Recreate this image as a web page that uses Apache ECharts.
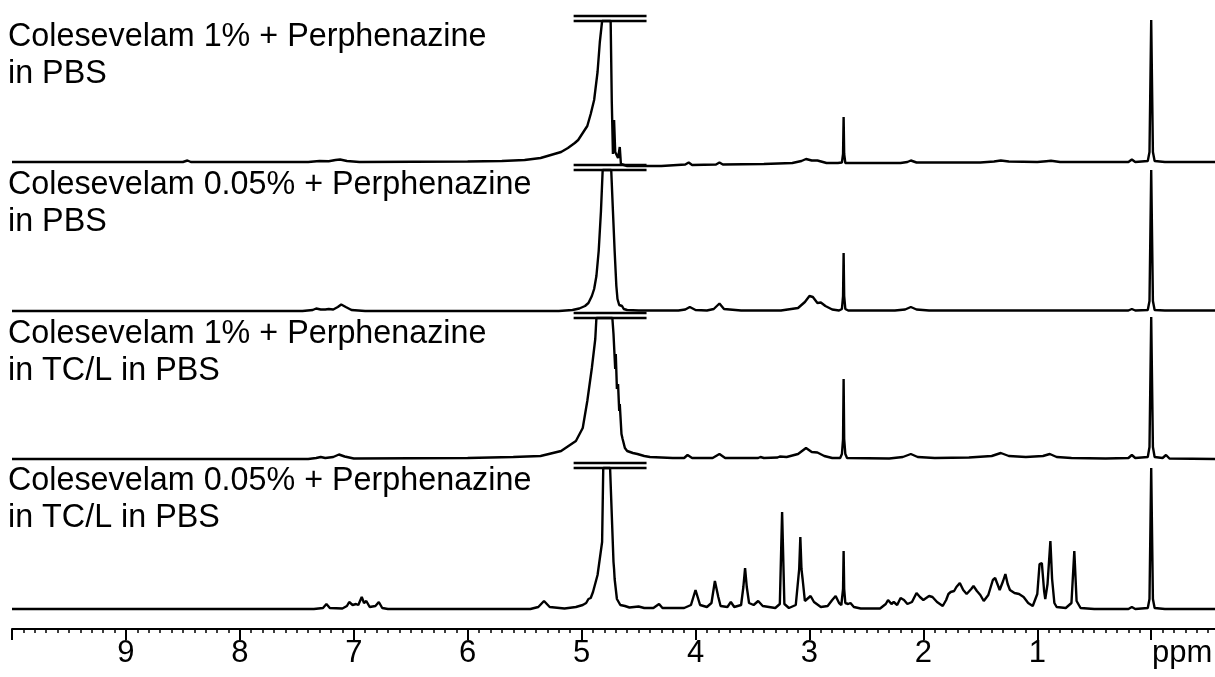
<!DOCTYPE html>
<html><head><meta charset="utf-8">
<script src="https://cdn.jsdelivr.net/npm/echarts@6/dist/echarts.min.js"></script>
<style>html,body{margin:0;padding:0;background:#fff;overflow:hidden}#c{width:1215px;height:677px}</style>
</head><body><div id="c"></div>
<script>
// ---- data (ppm, intensity above baseline) ----
const sampleLabels = [
  ['Colesevelam 1% + Perphenazine', 'in PBS'],
  ['Colesevelam 0.05% + Perphenazine', 'in PBS'],
  ['Colesevelam 1% + Perphenazine', 'in TC/L in PBS'],
  ['Colesevelam 0.05% + Perphenazine', 'in TC/L in PBS']
];
const majorTicksPpm = [10, 9, 8, 7, 6, 5, 4, 3, 2, 1, 0];
const tickLabelsPpm = [9, 8, 7, 6, 5, 4, 3, 2, 1, 0];
const unitLabel = 'ppm';

const trace1 = [[10,0],[8.5,0],[8.46,1.5],[8.43,0],[7.4,0],[7.3,1],[7.22,0.8],[7.16,2],[7.12,2.5],[7.06,1],[6.95,0],[6.0,0.5],[5.7,1],[5.5,2],[5.36,4],[5.27,7],[5.18,10],[5.12,14],[5.06,19],[5.03,22],[4.99,29],[4.95,36],[4.92,48],[4.89,62],[4.86,90],[4.84,120],[4.82,141],[4.745,141],[4.735,60],[4.725,8],[4.715,42],[4.705,10],[4.68,4],[4.665,15],[4.655,-2],[4.6,-4],[4.3,-4],[4.09,-2.5],[4.06,-0.5],[4.03,-3],[3.82,-2.5],[3.79,-0.5],[3.76,-2.5],[3.4,-2],[3.15,-1],[3.07,1],[3.03,3],[2.98,1.5],[2.93,1.5],[2.85,-1],[2.75,-1],[2.715,-0.5],[2.705,8],[2.70,45],[2.695,8],[2.685,-1],[2.2,-1],[2.14,0],[2.11,1.5],[2.06,-0.5],[1.5,-0.5],[1.38,0.5],[1.32,1.5],[1.25,0.5],[1.0,0],[0.92,0.8],[0.88,1.2],[0.8,0],[0.2,0],[0.17,2.5],[0.14,0],[0.03,1],[0.015,10],[0.0,142],[-0.015,10],[-0.03,1],[-0.12,0],[-0.13,2],[-0.14,0],[-0.6,0]];

const trace2 = [[10,0],[7.45,0],[7.36,1],[7.33,2.5],[7.29,1.5],[7.25,1.5],[7.22,2],[7.18,1.5],[7.14,4],[7.11,6.5],[7.07,4],[7.02,1],[6.9,0],[5.2,0],[5.08,1],[5.02,2.5],[4.97,5],[4.94,8],[4.91,15],[4.89,22],[4.87,35],[4.85,60],[4.83,100],[4.815,141],[4.74,141],[4.725,100],[4.71,60],[4.695,25],[4.685,12],[4.67,6],[4.66,4],[4.645,5],[4.63,2],[4.6,1],[4.5,0.5],[4.15,0.5],[4.09,1.5],[4.05,4],[4.0,1],[3.9,0.5],[3.84,2],[3.79,7.5],[3.75,2],[3.6,0.5],[3.25,0.5],[3.1,3],[3.04,9],[3.0,15],[2.97,14],[2.93,8],[2.9,8.5],[2.86,5],[2.8,1.5],[2.74,0.5],[2.715,2],[2.705,15],[2.70,58],[2.695,15],[2.685,2],[2.66,0.5],[2.25,0.5],[2.16,1.5],[2.11,4],[2.06,1.5],[1.95,0.5],[0.2,0.5],[0.17,2],[0.14,0.5],[0.03,1],[0.015,10],[0,141],[-0.015,10],[-0.03,1],[-0.12,0.5],[-0.13,2],[-0.14,0.5],[-0.6,0.5]];

const trace3 = [[10,0],[7.4,0],[7.33,1],[7.29,2],[7.25,1],[7.18,2],[7.13,4.5],[7.08,2.5],[7.0,0.5],[6.0,1],[5.6,2],[5.36,3],[5.18,8],[5.05,18],[4.99,31],[4.95,58],[4.91,91],[4.88,120],[4.87,141],[4.73,141],[4.72,125],[4.705,90],[4.70,105],[4.69,70],[4.68,75],[4.67,48],[4.665,55],[4.65,25],[4.64,20],[4.62,11],[4.6,8],[4.55,6],[4.51,5],[4.45,3],[4.4,2],[4.2,1],[4.1,1],[4.07,4],[4.03,1],[3.85,1],[3.79,5],[3.74,1],[3.45,1],[3.43,2],[3.4,1],[3.28,1.5],[3.26,2.5],[3.2,2],[3.1,5],[3.03,11],[2.98,7],[2.93,6.5],[2.87,3],[2.8,1],[2.73,1],[2.715,5],[2.705,20],[2.70,80],[2.695,20],[2.685,5],[2.67,1],[2.3,0.5],[2.18,2],[2.11,5],[2.05,2],[1.9,1],[1.6,1.5],[1.4,3],[1.32,6],[1.25,3],[1.1,2],[0.95,3],[0.89,5],[0.83,2],[0.7,1],[0.4,0.5],[0.2,1],[0.17,4],[0.14,1],[0.03,2],[0.015,12],[0,142],[-0.015,12],[-0.03,2],[-0.1,1],[-0.13,4],[-0.16,0.5],[-0.6,0]];

const trace4 = [[10,0],[7.35,0],[7.27,1],[7.24,5],[7.21,1],[7.1,0.5],[7.06,3],[7.04,7],[7.01,4],[6.98,5],[6.96,4],[6.93,12],[6.91,6],[6.89,8],[6.86,2],[6.81,3],[6.78,7],[6.75,1],[6.7,0],[5.45,0],[5.38,2],[5.33,8],[5.28,2],[5.15,0.5],[5.05,2],[4.99,4],[4.96,6],[4.94,10],[4.92,11],[4.9,17],[4.86,34],[4.82,67],[4.81,141],[4.75,141],[4.72,47],[4.715,40],[4.71,30],[4.69,10],[4.66,4],[4.62,3],[4.58,1.5],[4.5,2.5],[4.45,1],[4.37,1],[4.32,5],[4.29,1],[4.1,1],[4.04,4],[4.0,19],[3.96,4],[3.9,2],[3.86,6],[3.83,28],[3.8,12],[3.78,3],[3.72,2],[3.69,7],[3.66,2],[3.6,4],[3.58,22],[3.565,41],[3.55,22],[3.53,6],[3.49,4],[3.45,8],[3.41,3],[3.3,1],[3.26,5],[3.24,97],[3.22,5],[3.18,1],[3.12,4],[3.09,40],[3.08,72],[3.07,40],[3.06,30],[3.04,8],[3.02,10],[2.99,13],[2.96,7],[2.9,2],[2.84,3],[2.8,9],[2.77,13],[2.74,6],[2.72,4],[2.705,20],[2.70,58],[2.695,20],[2.685,6],[2.66,5],[2.64,6],[2.61,2],[2.55,0.5],[2.38,0.5],[2.33,5],[2.31,9],[2.28,5],[2.26,7],[2.23,4],[2.2,11],[2.17,9],[2.14,5],[2.1,7],[2.06,16],[2.03,12],[2.0,9],[1.95,13],[1.92,12],[1.88,7],[1.83,3],[1.8,9],[1.78,15],[1.76,17],[1.73,18],[1.71,22],[1.68,26],[1.65,19],[1.62,15],[1.58,20],[1.56,23],[1.53,18],[1.5,14],[1.47,8],[1.43,14],[1.39,29],[1.37,31],[1.35,25],[1.33,19],[1.3,28],[1.28,35],[1.26,25],[1.24,19],[1.2,16],[1.16,15],[1.12,12],[1.08,6],[1.04,3],[1.0,15],[0.98,45],[0.96,46],[0.94,18],[0.93,10],[0.91,25],[0.885,68],[0.87,30],[0.85,6],[0.83,2],[0.75,1],[0.7,6],[0.675,58],[0.655,8],[0.62,1],[0.5,0],[0.2,0],[0.17,2],[0.14,0],[0.03,1],[0.015,10],[0,141],[-0.015,10],[-0.03,1],[-0.12,0],[-0.13,2],[-0.14,0],[-0.6,0]];

const traces = [trace1, trace2, trace3, trace4];
// truncation marks drawn across the cut water peak
const breakMarkPpm = [5.07, 4.43];
const breakMarkLevels = [141, 146];

// ---- layout ----
const X_MIN = -0.56, X_MAX = 10;
const baselinesPx = [162, 311, 459, 609];
const FONT = 'Arial, "Liberation Sans", Helvetica, sans-serif';
const FS = 32.3;
const labelCenterPx = [37, 185, 334, 481];
const lineGap = 37;

// minor tick positions every 0.1 ppm across the visible range (axis decoration)
const minorTicks = [];
for (let k = Math.ceil(X_MIN * 10); k <= X_MAX * 10; k++) {
  if (k % 10 !== 0) minorTicks.push(k / 10);
}

const chart = echarts.init(document.getElementById('c'), null, {renderer: 'canvas'});
const grids = [], xAxes = [], yAxes = [], series = [];
traces.forEach((tr, i) => {
  grids.push({left: 12, right: 0, top: baselinesPx[i] - 150, height: 160, containLabel: false, outerBoundsMode: 'none'});
  const vis = i === traces.length - 1;
  xAxes.push({
    type: 'value', gridIndex: i, min: X_MIN, max: X_MAX, inverse: true,
    show: vis, offset: vis ? 10 : 0, position: 'bottom',
    axisLine: {show: vis, onZero: false, lineStyle: {color: '#000', width: 2}},
    axisTick: {show: vis, length: 11, customValues: majorTicksPpm, lineStyle: {color: '#000', width: 2}},
    minorTick: {show: false},
    splitLine: {show: false},
    axisLabel: {
      show: vis, margin: 9, color: '#000', fontSize: 31, fontFamily: FONT,
      customValues: tickLabelsPpm,
      formatter: v => v === 0 ? '{p|' + unitLabel + '}' : String(v),
      rich: {p: {fontSize: 31, fontFamily: FONT, color: '#000', padding: [0, 0, 0, 62]}}
    }
  });
  yAxes.push({type: 'value', gridIndex: i, min: -10, max: 150, show: false});
  series.push({
    type: 'line', xAxisIndex: i, yAxisIndex: i, data: tr, showSymbol: false, symbol: 'none',
    lineStyle: {color: '#000', width: 2.4}, animation: false, silent: true
  });
  breakMarkLevels.forEach(lv => {
    series.push({
      type: 'line', xAxisIndex: i, yAxisIndex: i, data: breakMarkPpm.map(p => [p, lv]),
      showSymbol: false, symbol: 'none', lineStyle: {color: '#000', width: 2.4}, animation: false, silent: true
    });
  });
});
// extra axis on the bottom grid carrying only the 0.1 ppm minor ticks
xAxes.push({
  type: 'value', gridIndex: traces.length - 1, min: X_MIN, max: X_MAX, inverse: true,
  offset: 10, position: 'bottom',
  axisLine: {show: false, onZero: false},
  axisTick: {show: true, length: 4, customValues: minorTicks, lineStyle: {color: '#000', width: 1.5}},
  axisLabel: {show: false}, splitLine: {show: false}
});

const graphic = [];
sampleLabels.forEach((lines, i) => {
  lines.forEach((t, j) => {
    graphic.push({
      type: 'text', x: 8, y: labelCenterPx[i] + j * lineGap, silent: true,
      style: {text: t, font: FS + 'px ' + FONT, fill: '#000', verticalAlign: 'middle', textVerticalAlign: 'middle'}
    });
  });
});

chart.setOption({
  animation: false,
  backgroundColor: '#fff',
  grid: grids, xAxis: xAxes, yAxis: yAxes, series: series, graphic: graphic
});
</script></body></html>
